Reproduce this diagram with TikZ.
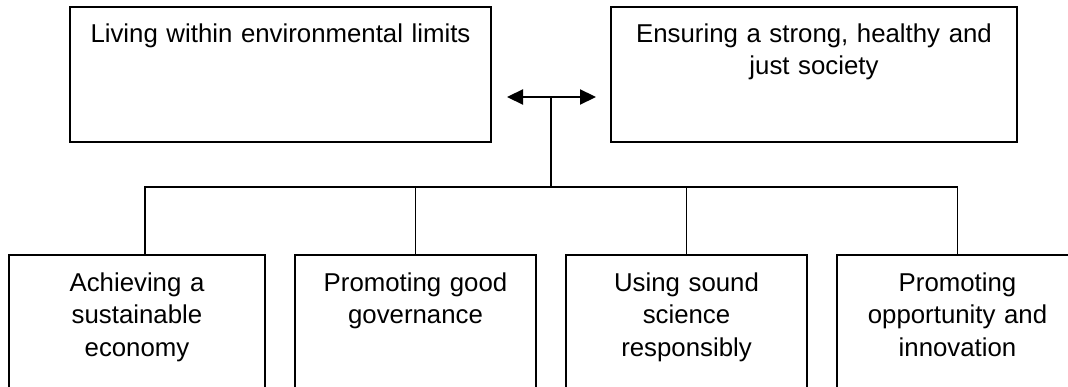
\documentclass[tikz,border=0pt]{standalone}
\usepackage{fontspec}
\setmainfont{Liberation Sans}
\usetikzlibrary{positioning,arrows.meta}

\begin{document}
\begin{tikzpicture}[x=1pt, y=-1pt,
    box/.style={draw, line width=1.6pt, inner sep=0pt, outer sep=0pt, align=center,
                font=\fontsize{25.8}{32}\selectfont},
    topbox/.style={box, text height=36pt, text depth=99pt},
    botbox/.style={box, text width=241pt, text height=37pt, text depth=110pt},
    link/.style={line width=1.3pt},
    twoway/.style={line width=2.2pt, {Triangle[length=16pt,width=15pt]}-{Triangle[length=16pt,width=15pt]}}]
          \useasboundingbox (0,0) rectangle (1068,387);
          \node[topbox, text width=421pt, anchor=north west] (env) at (70,7) {Living within environmental limits};
          \node[topbox, text width=406pt]  (soc) [right=120pt of env] {Ensuring a strong, healthy and\\ just society};
          \node[botbox, text width=256pt, anchor=north west] (b1) at (9,255) {Achieving a\\ sustainable\\ economy};
          \node[botbox] (b2) [right=30pt of b1] {Promoting good\\ governance};
          \node[botbox] (b3) [right=30pt of b2] {Using sound\\ science\\ responsibly};
          \node[botbox] (b4) [right=30pt of b3] {Promoting\\ opportunity and\\ innovation};
          \coordinate (hub) at (551,97);
          \coordinate (bar) at (551,187);
          \draw[twoway, shorten <=16pt, shorten >=15pt] (env.east |- hub) -- (soc.west |- hub);
          \draw[link] (hub) -- (bar);
          \draw[link] ([xshift=8pt]b1.north) |- (bar) -| (b4.north);
          \draw[link] (b2.north) -- (b2.north |- bar);
          \draw[link] (b3.north) -- (b3.north |- bar);
\end{tikzpicture}
\end{document}
